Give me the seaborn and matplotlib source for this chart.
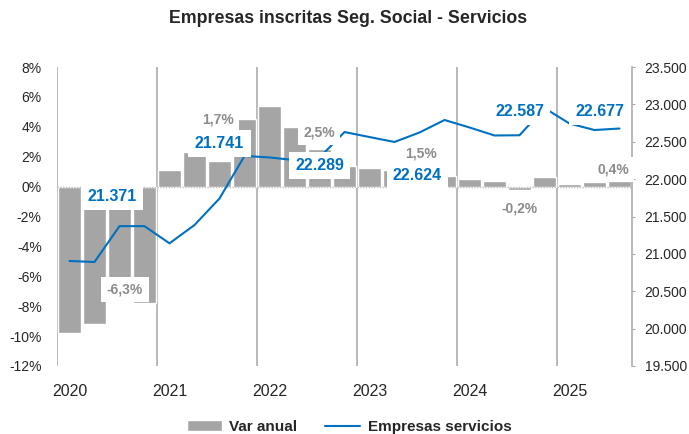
import pandas as pd
import numpy as np
import matplotlib
matplotlib.use("Agg")
import matplotlib.pyplot as plt
import matplotlib.ticker as mticker
import seaborn as sns


# 1. Data (quarterly, 2020 Q1 - 2025 Q3)
years = ['2020', '2021', '2022', '2023', '2024', '2025']
var_anual = [-9.8, -9.2, -6.3, -7.8,
             1.1, 2.3, 1.7, 4.5,
             5.4, 4.0, 2.5, 1.4,
             1.25, 1.1, 1.5, 0.7,
             0.5, 0.35, -0.2, 0.65,
             0.2, 0.3, 0.4]
empresas = [20905, 20891, 21371, 21371,
            21141, 21386, 21741, 22310,
            22290, 22255, 22289, 22630,
            22563, 22497, 22624, 22791,
            22691, 22584, 22587, 22950,
            22744, 22657, 22677]
# labelled points: 3rd quarter of each year
label_idx = [2, 6, 10, 14, 18, 22]

df = pd.DataFrame({'trim': range(len(var_anual)), 'var': var_anual, 'emp': empresas})


# 2. Plot
sns.set_style("white")
plt.rcParams['font.family'] = ['Liberation Sans', 'DejaVu Sans']

bar_col = '#a5a5a5'
line_col = '#0070c0'
lab_gray = '#8c8c8c'

fig, ax = plt.subplots(figsize=(6.89, 4.34), dpi=100)
fig.subplots_adjust(left=0.0827, right=0.9173, top=0.8456, bottom=0.1567)

sns.barplot(data=df, x='trim', y='var', color=bar_col, saturation=1, width=0.93,
            ax=ax, label='Var anual')
ax2 = ax.twinx()
sns.lineplot(data=df, x='trim', y='emp', color=line_col, lw=1.5, ax=ax2,
             label='Empresas servicios')
for a in (ax, ax2):
    if a.get_legend() is not None:
        a.get_legend().remove()

n = len(var_anual)
ax.set_xlim(-0.5, n - 0.5)
ax.set_ylim(-12, 8)
ax2.set_ylim(19500, 23500)

# year separators + zero line
for xv in np.arange(-0.5, n, 4):
    ax.axvline(xv, color='#a6a6a6', lw=1.1, zorder=0)
ax.axhline(0, color='#bfbfbf', lw=1, ls=(0, (1, 1)), zorder=3)

ax.set_xticks(np.arange(0, n, 4))
ax.set_xticklabels(years, fontsize=11.5)
ax.tick_params(axis='x', length=0, pad=13)
ax.set_yticks(np.arange(-12, 9, 2))
ax.yaxis.set_major_formatter(mticker.FuncFormatter(lambda v, p: f'{v:.0f}%'))
ax.tick_params(axis='y', length=0, labelsize=10, pad=11)
ax2.set_yticks(np.arange(19500, 23501, 500))
ax2.yaxis.set_major_formatter(mticker.FuncFormatter(lambda v, p: f'{v:,.0f}'.replace(',', '.')))
ax2.tick_params(axis='y', length=2.5, color='#a6a6a6', labelsize=10, pad=6.5)
for a in (ax, ax2):
    a.set_xlabel('')
    a.set_ylabel('')
    for s in ['top', 'bottom', 'left']:
        a.spines[s].set_visible(False)
ax.spines['right'].set_visible(False)
ax2.spines['right'].set_color('#a6a6a6')
ax2.spines['right'].set_linewidth(1.1)

# labels with white boxes
blue_off = [(-7.5, 30), (0, 55), (0, -8), (-2, -43), (0, 24), (-20, 17)]
gray_off = [(5.5, -9), (-1.5, 42), (-0.5, 16.5), (1.5, 11), (0, -18.5), (-6.5, 11)]
box = dict(boxstyle='square,pad=0.4', fc='white', ec='none')
for i, off in zip(label_idx, blue_off):
    ax2.annotate(f'{empresas[i]:,}'.replace(',', '.'), xy=(i, empresas[i]),
                 xytext=off, textcoords='offset pixels', ha='center', va='center',
                 fontsize=11.5, fontweight='bold', color=line_col, bbox=box, zorder=6)
for i, off in zip(label_idx, gray_off):
    ax2.annotate(f'{var_anual[i]:.1f}%'.replace('.', ','), xy=(i, var_anual[i]),
                 xycoords=ax.transData, xytext=off, textcoords='offset pixels',
                 ha='center', va='center', fontsize=10, fontweight='bold',
                 color=lab_gray, bbox=box, zorder=7)

fig.text(0.505, 0.958, 'Empresas inscritas Seg. Social - Servicios', ha='center',
         va='center', fontsize=12.8, fontweight='bold')

h1, l1 = ax.get_legend_handles_labels()
h2, l2 = ax2.get_legend_handles_labels()
fig.legend(h1 + h2, l1 + l2, loc='center', bbox_to_anchor=(349 / 689, 1 - 427 / 434),
           ncol=2, frameon=False, prop={'weight': 'bold', 'size': 11},
           handlelength=2.3, handletextpad=0.5, columnspacing=1.8)

plt.savefig('out.png', dpi=100)
